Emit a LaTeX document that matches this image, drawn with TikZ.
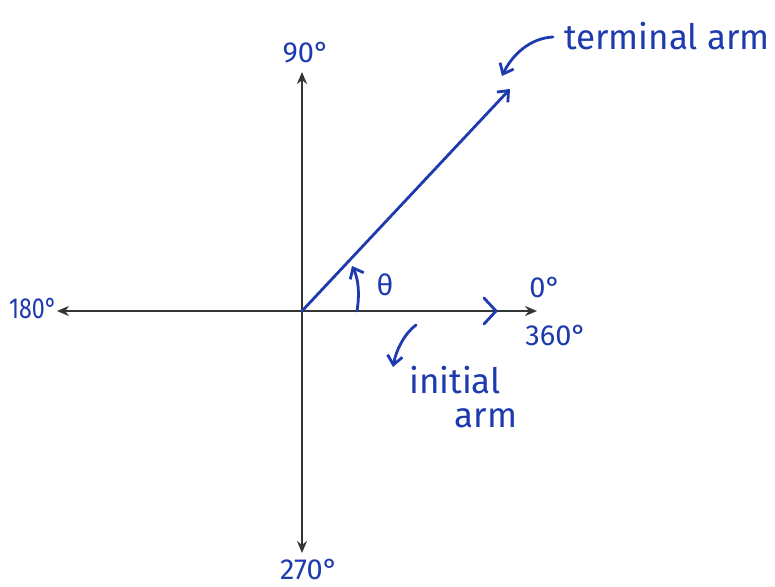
\documentclass[tikz,border=0pt]{standalone}
\usepackage{fontspec}
\setmainfont{Fira Sans}
\usetikzlibrary{arrows.meta}
\definecolor{handblue}{RGB}{30,58,175}
\definecolor{axisgray}{RGB}{50,54,50}
\begin{document}
\begin{tikzpicture}[x=1pt,y=-1pt,
  axis/.style={draw=axisgray,line width=2pt,-{Stealth[length=12pt,width=10pt]}},
  bluepen/.style={draw=handblue,line width=2.8pt,line cap=round,line join=round},
  barb/.style={-{Straight Barb[length=9pt,width=15pt,line width=2.8pt]}},
  lbl/.style={text=handblue,inner sep=0pt,font=\fontsize{29}{33}\selectfont},
  biglbl/.style={text=handblue,inner sep=0pt,font=\fontsize{35}{40}\selectfont}]
\useasboundingbox (0,0) rectangle (775,586);
\fill[white] (0,0) rectangle (775,586);
% coordinates
\coordinate (O) at (302,311);
\coordinate (top) at (302,72);
\coordinate (bot) at (302,553);
\coordinate (left) at (57,311);
\coordinate (right) at (537,311);
\coordinate (term) at (510,89);
\coordinate (chev) at (496,311);
\coordinate (ths) at (357,311);
\coordinate (the) at (352,266);
\coordinate (tas) at (553,37);
\coordinate (tae) at (502,76);
\coordinate (ias) at (416,325);
\coordinate (iae) at (393,367);
% axes
\draw[axis] (O) -- (top);
\draw[axis] (O) -- (bot);
\draw[axis] (O) -- (left);
\draw[axis] (O) -- (right);
% terminal arm
\draw[bluepen,barb] (O) -- (term);
% chevron on initial arm
\draw[bluepen] ([shift={(-12,-13)}]chev) -- (chev) -- ([shift={(-12,13)}]chev);
% theta arc
\draw[bluepen,barb] (ths) .. controls (360,292) and (358,278) .. (the);
% label arrows
\draw[bluepen,barb] (tas) .. controls (530,38) and (512,55) .. (tae);
\draw[bluepen,barb] (ias) .. controls (405,333) and (396,350) .. (iae);
% labels
\node[lbl] (l90) at (306,53) {90°};
\node[lbl,xscale=0.8] (l180) at (33,309) {180°};
\node[lbl] (l270) at (309,569) {270°};
\node[lbl] (l0) at (545,288) {0°};
\node[lbl] (l360) at (556,336) {360°};
\node[lbl] (lth) at (385,285) {θ};
\node[biglbl] (lterm) at (667,36) {terminal arm};
\node[biglbl] (linit) at (455,380) {initial};
\node[biglbl] (larm) at (486,418) {arm};
\end{tikzpicture}
\end{document}
